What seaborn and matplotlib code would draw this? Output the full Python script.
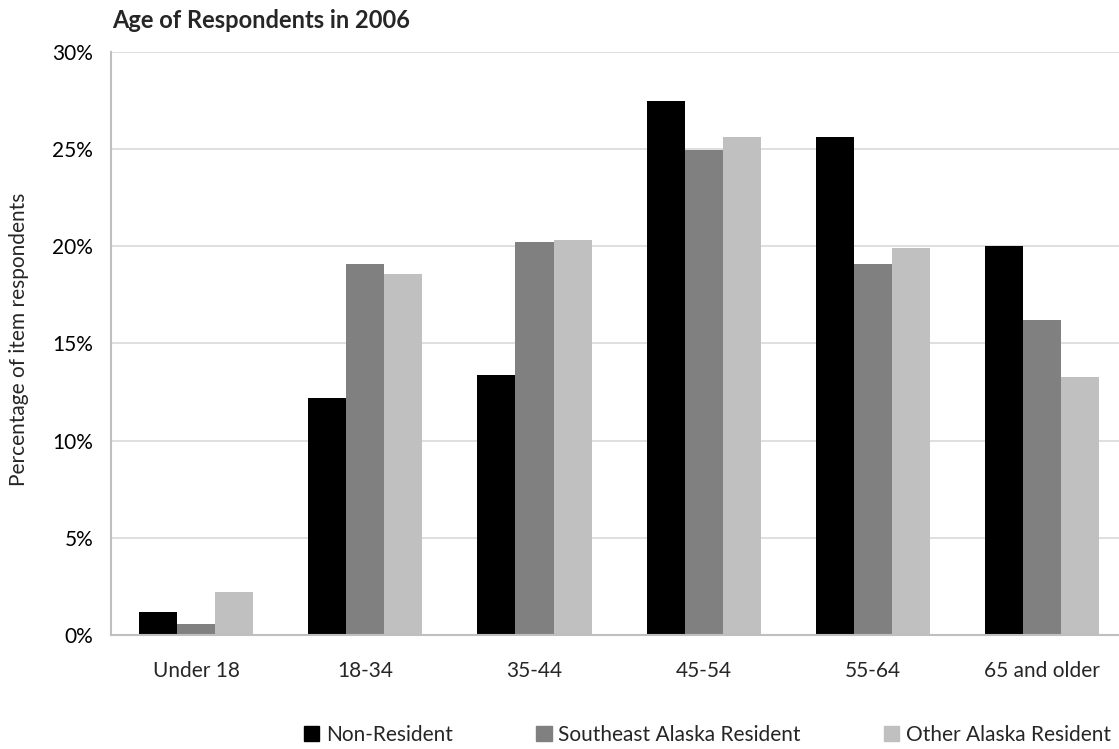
import pandas as pd
import seaborn as sns
import matplotlib.pyplot as plt
from matplotlib.ticker import PercentFormatter, FixedLocator


# 데이터
age_groups = ['Under 18', '18-34', '35-44', '45-54', '55-64', '65 and older']
groups = ['Non-Resident', 'Southeast Alaska Resident', 'Other Alaska Resident']
non_resident = [1.2, 12.2, 13.4, 27.5, 25.6, 20.0]
southeast = [0.55, 19.1, 20.2, 24.95, 19.1, 16.2]
other_alaska = [2.2, 18.6, 20.3, 25.6, 19.9, 13.3]
colors = ['#000000', '#808080', '#C0C0C0']

df = pd.DataFrame({
    'age': age_groups * 3,
    'group': [g for g in groups for _ in age_groups],
    'pct': non_resident + southeast + other_alaska,
})

sns.set_style('white')
plt.rcParams['font.family'] = ['Lato', 'DejaVu Sans']

fig, ax = plt.subplots(figsize=(11.19, 7.49), dpi=100)
fig.subplots_adjust(left=0.0995, right=1.007, top=0.9306, bottom=0.1522)

sns.barplot(data=df, x='age', y='pct', hue='group', order=age_groups,
            hue_order=groups, palette=colors, width=0.675, gap=0,
            saturation=1, linewidth=0, ax=ax, legend=False)

# 축 설정
ax.set_ylim(0, 30)
ax.set_xlim(-0.5, 5.5)
ax.yaxis.set_major_formatter(PercentFormatter(decimals=0))
ax.set_yticks(range(0, 31, 5))
ax.yaxis.grid(True, color='#D9D9D9', linewidth=1.2)
ax.set_axisbelow(True)
for s in ['top', 'right']:
    ax.spines[s].set_visible(False)
for s in ['left', 'bottom']:
    ax.spines[s].set_color('#BFBFBF')
    ax.spines[s].set_linewidth(1.5)

ax.tick_params(axis='y', length=5, color='#BFBFBF', labelsize=15, colors='#000000', pad=8)
ax.tick_params(axis='x', which='major', length=0, labelsize=15, pad=19)
ax.xaxis.set_minor_locator(FixedLocator([i - 0.5 for i in range(7)]))
ax.tick_params(axis='x', which='minor', length=6, color='#BFBFBF', width=1.2)

ax.set_xlabel('')
ax.set_ylabel('')
fig.text(0.017, 0.5 * (0.9306 + 0.1522) + 0.005, 'Percentage of item respondents',
         fontsize=15, rotation=90, va='center', ha='center')
fig.text(0.1, 0.972, 'Age of Respondents in 2006', fontsize=17,
         fontweight='bold', va='center')

# 범례
handles = [plt.Rectangle((0, 0), 1, 1, color=c) for c in colors]
fig.legend(handles, groups, loc='center', bbox_to_anchor=(0.632, 0.019),
           ncol=3, frameon=False, fontsize=15, handlelength=0.75,
           handleheight=0.75, handletextpad=0.3, columnspacing=4.0,
           borderaxespad=0, borderpad=0)

plt.savefig('out.png', dpi=100)
